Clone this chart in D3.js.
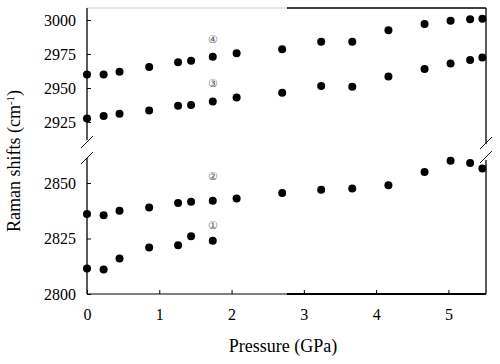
<!DOCTYPE html>
<html>
<head>
<meta charset="utf-8">
<script src="https://cdn.jsdelivr.net/npm/d3@7"></script>
</head>
<body style="margin:0">
<script>
// values
const pressure = [0, 0.23, 0.45, 0.86, 1.26, 1.44, 1.74, 2.07, 2.70, 3.24, 3.67, 4.17, 4.67, 5.03, 5.30, 5.47]

const band4 = [2960, 2960, 2962, 2965.5, 2969, 2970, 2973, 2975.5, 2978.5, 2984, 2984, 2992.5, 2997, 2999.5, 3000.5, 3001]
const band3 = [2927.5, 2929.5, 2931, 2933.5, 2937, 2937.5, 2940, 2943, 2946.5, 2951.5, 2951, 2958.5, 2964, 2968, 2970.5, 2972.5]
const band2 = [2836, 2835.5, 2837.5, 2839, 2841, 2841.5, 2842, 2843, 2845.5, 2847, 2847.5, 2849, 2855, 2860, 2859, 2856.5]
const band1 = [2811.5, 2811, 2816, 2821, 2822, 2826, 2824]

const upperTicks = [2925, 2950, 2975, 3000]
const lowerTicks = [2800, 2825, 2850]
const xTicks = [0, 1, 2, 3, 4, 5]

const noteLabels = ["④", "③", "②", "①"]
const notePressure = 1.74
const noteValues = [2986, 2954, 2853, 2831]
const noteUpper = [true, true, false, false]

const width = 500
const height = 364

const mLeft = 87, mRight = 486, mTop = 8, mBottom = 294
const serifFont = '"Liberation Serif", monospace'

const svg = d3.select("body").append("svg")
    .attr("width", width)
    .attr("height", height)

const x = d3.scaleLinear().domain([0, 5.52]).range([mLeft, mRight])
const yUp = d3.scaleLinear().domain([2925, 3000]).range([122, 20])
const yLow = d3.scaleLinear().domain([2800, 2850]).range([mBottom, 183])

// frame, drawn by hand because of the axis break
const frame = svg.append("g").attr("fill", "none")
frame.append("line").attr("x1", mLeft).attr("x2", 287).attr("y1", mTop).attr("y2", mTop)
    .attr("stroke", "#c8c8c8").attr("stroke-width", 1)
frame.append("line").attr("x1", 287).attr("x2", mRight).attr("y1", mTop).attr("y2", mTop)
    .attr("stroke", "#000").attr("stroke-width", 1.3)
frame.append("line").attr("x1", mLeft).attr("x2", 287).attr("y1", mBottom).attr("y2", mBottom)
    .attr("stroke", "#000").attr("stroke-width", 1.2)
frame.append("line").attr("x1", 287).attr("x2", mRight).attr("y1", mBottom).attr("y2", mBottom)
    .attr("stroke", "#000").attr("stroke-width", 2)

// vertical sides with gaps
const sides = [
    {x: mLeft, y1: mTop, y2: 140},
    {x: mLeft, y1: 158, y2: mBottom},
    {x: mRight, y1: mTop, y2: 144},
    {x: mRight, y1: 160, y2: mBottom}
]
frame.selectAll(".side")
    .data(sides)
    .enter().append("line")
    .attr("x1", d => d.x).attr("x2", d => d.x)
    .attr("y1", d => d.y1).attr("y2", d => d.y2)
    .attr("stroke", "#000").attr("stroke-width", 1.3)

// break marks
const breaks = [
    {cx: mLeft, cy: 142}, {cx: mLeft, cy: 158},
    {cx: mRight, cy: 143}, {cx: mRight, cy: 157}
]
frame.selectAll(".brk")
    .data(breaks)
    .enter().append("line")
    .attr("x1", d => d.cx - 6).attr("y1", d => d.cy + 6)
    .attr("x2", d => d.cx + 6).attr("y2", d => d.cy - 6)
    .attr("stroke", "#000").attr("stroke-width", 0.9)

// axes, ticks point inward
function styleAxis(g) {
    g.attr("font-family", null).attr("font-size", null)
    g.select(".domain").remove()
    g.selectAll(".tick line").attr("stroke", "#000").attr("stroke-width", 1)
    g.selectAll(".tick text")
        .attr("fill", "#000")
        .attr("font-size", 16)
        .attr("class", "serif")
}

svg.append("g")
    .attr("transform", `translate(${mLeft},0)`)
    .call(d3.axisLeft(yUp).tickValues(upperTicks).tickSizeInner(-4).tickSizeOuter(0).tickPadding(11).tickFormat(d3.format("d")))
    .call(styleAxis)

svg.append("g")
    .attr("transform", `translate(${mLeft},0)`)
    .call(d3.axisLeft(yLow).tickValues(lowerTicks).tickSizeInner(-4).tickSizeOuter(0).tickPadding(11).tickFormat(d3.format("d")))
    .call(styleAxis)

svg.append("g")
    .attr("transform", `translate(0,${mBottom})`)
    .call(d3.axisBottom(x).tickValues(xTicks).tickSizeInner(-4).tickSizeOuter(0).tickPadding(15).tickFormat(d3.format("d")))
    .call(styleAxis)

// points
const series = [
    {values: band4, y: yUp},
    {values: band3, y: yUp},
    {values: band2, y: yLow},
    {values: band1, y: yLow}
]

const dots = svg.append("g")
series.forEach(s => {
    dots.selectAll(null)
        .data(s.values)
        .enter().append("circle")
        .attr("cx", (v, i) => x(pressure[i]))
        .attr("cy", v => s.y(v))
        .attr("r", 4)
        .attr("fill", "#000")
})

// circled band numbers
svg.append("g")
    .selectAll("text")
    .data(noteLabels)
    .enter().append("text")
    .attr("x", x(notePressure))
    .attr("y", (d, i) => (noteUpper[i] ? yUp : yLow)(noteValues[i]))
    .attr("text-anchor", "middle")
    .attr("dominant-baseline", "central")
    .attr("fill", "#555")
    .attr("font-size", 11)
    .attr("class", "serif")
    .text(d => d)

// axis titles
svg.append("text")
    .attr("x", 283)
    .attr("y", 352)
    .attr("text-anchor", "middle")
    .attr("fill", "#000")
    .attr("font-size", 18)
    .attr("class", "serif")
    .text("Pressure (GPa)")

const ytitle = svg.append("text")
    .attr("transform", "translate(20,161) rotate(-90)")
    .attr("text-anchor", "middle")
    .attr("fill", "#000")
    .attr("font-size", 18)
    .attr("class", "serif")
ytitle.append("tspan").text("Raman shifts (cm")
ytitle.append("tspan").attr("dy", -6).attr("font-size", 11).text("-1")
ytitle.append("tspan").attr("dy", 6).text(")")

// set the face per text, measuring it the way the font test did
const ctx = document.createElement("canvas").getContext("2d")
svg.selectAll("text.serif")
    .style("font-family", serifFont)
    .each(function () {
        ctx.font = d3.select(this).attr("font-size") + "px " + serifFont
        ctx.measureText(this.textContent)
    })
</script>
</body>
</html>
